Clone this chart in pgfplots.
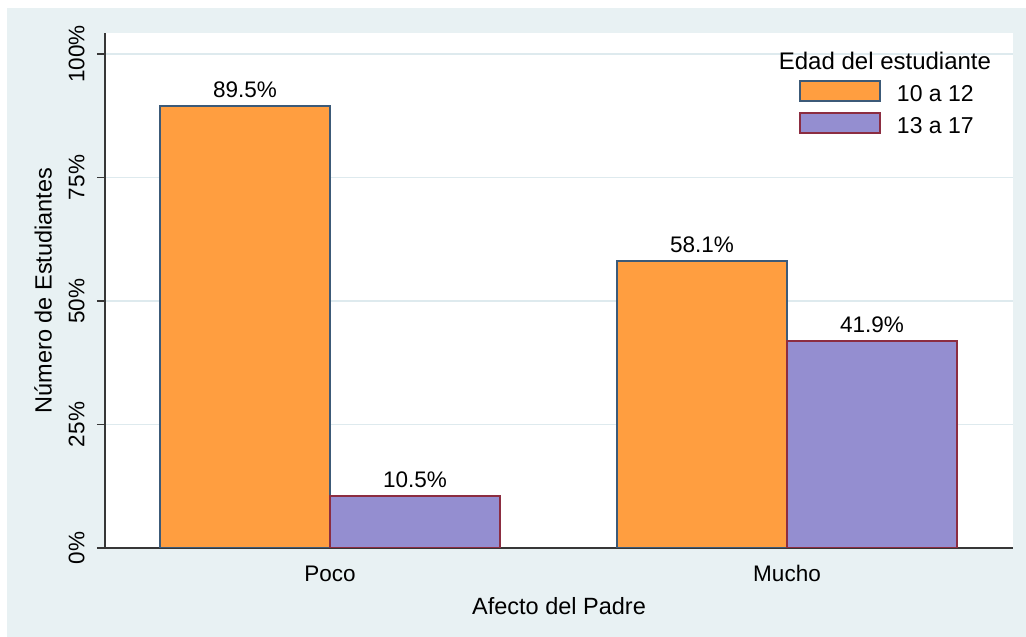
\documentclass[border=0pt]{standalone}
\usepackage{pgfplots}
\pgfplotsset{compat=1.18}
\usepackage{fontspec}
\setmainfont{Liberation Sans}
\definecolor{bgc}{RGB}{232,241,243}
\definecolor{gridc}{RGB}{222,234,238}
\definecolor{axc}{RGB}{55,55,55}
\definecolor{orf}{RGB}{255,158,64}
\definecolor{orb}{RGB}{60,90,120}
\definecolor{puf}{RGB}{148,142,208}
\definecolor{pub}{RGB}{140,45,65}
\begin{document}
\begin{tikzpicture}
\useasboundingbox (0,0) rectangle (513bp,318.5bp);
\fill[bgc] (3.5bp,0) rectangle (513bp,314.5bp);
\begin{axis}[
  at={(52.5bp,44.5bp)}, anchor=south west,
  scale only axis, width=454bp, height=257.5bp,
  axis background/.style={fill=white},
  ybar=0pt, bar width=85bp,
  legend image code/.code={\draw[#1] (0bp,-5bp) rectangle (40bp,5bp);},
  xmin=-0.4923, xmax=1.4945, ymin=0, ymax=104.25,
  xtick={0,1}, xticklabels={Poco,Mucho},
  ytick={0,25,50,75,100},
  /pgf/number format/assume math mode=true,
  yticklabel={\pgfmathprintnumber{\tick}\%},
  axis x line*=bottom, axis y line*=left,
  axis line style={draw=axc, line width=1bp},
  tick align=outside, major tick length=4bp,
  ytick style={draw=axc, line width=0.75bp},
  xtick style={draw=none},
  ymajorgrids, grid style={draw=gridc, line width=0.6bp},
  yticklabel style={rotate=90, anchor=south, inner sep=0pt, font=\fontsize{11.25bp}{13bp}\selectfont},
  xticklabel style={anchor=base, inner sep=0pt, font=\fontsize{11.25bp}{13bp}\selectfont},
  xticklabel shift=12.5bp,
  yticklabel shift=6bp,
  xlabel={Afecto del Padre},
  ylabel={Número de Estudiantes},
  every axis x label/.style={at={(axis description cs:0.5,0)}, anchor=base, yshift=-33bp, font=\fontsize{11.75bp}{14bp}\selectfont},
  every axis y label/.style={at={(axis description cs:-0.0683,0.5)}, anchor=center, rotate=90, font=\fontsize{11.75bp}{14bp}\selectfont},
  nodes near coords={\pgfmathprintnumber[fixed,fixed zerofill,precision=1]{\pgfplotspointmeta}\%},
  nodes near coords style={anchor=south, inner sep=0pt, yshift=3.5bp, font=\fontsize{11.25bp}{13bp}\selectfont, text=black},
  legend style={at={(rel axis cs:0.7643,0.9087)}, anchor=north west, draw=none, fill=none, inner sep=0pt, outer sep=0pt, row sep=5bp, column sep=8bp, font=\fontsize{11.5bp}{13bp}\selectfont, nodes={inner sep=0pt, text height=10bp, text depth=0bp}, cells={anchor=west}},
]
\addplot[fill=orf, draw=orb, line width=1bp] coordinates {(0,89.5) (1,58.1)};
\addplot[fill=puf, draw=pub, line width=1bp] coordinates {(0,10.5) (1,41.9)};
\legend{10 a 12, 13 a 17}
\node[font=\fontsize{12bp}{14bp}\selectfont, anchor=base] at (rel axis cs:0.859,0.93) {Edad del estudiante};
\end{axis}
\end{tikzpicture}
\end{document}
